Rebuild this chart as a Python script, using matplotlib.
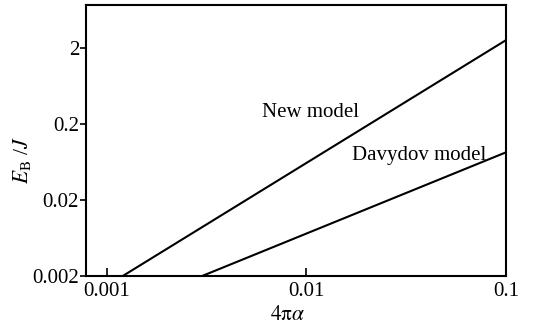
import matplotlib
matplotlib.use("Agg")
from matplotlib import pyplot as plt
from matplotlib.ticker import FixedLocator, FixedFormatter, NullLocator

plt.rcParams['font.family'] = ['Liberation Serif', 'DejaVu Serif']
plt.rcParams['mathtext.fontset'] = 'stix'

# 数据
new_x = [0.0012, 0.1]
new_y = [0.002, 2.55]
dav_x = [0.0030, 0.1]
dav_y = [0.002, 0.085]

x_ticks = [0.001, 0.01, 0.1]
x_labels = ["0.001", "0.01", "0.1"]
y_ticks = [0.002, 0.02, 0.2, 2]
y_labels = ["0.002", "0.02", "0.2", "2"]

fig = plt.figure(figsize=(5.49, 3.26), dpi=100)
ax = fig.add_axes([0.1566, 0.1534, 0.9217 - 0.1566, 0.9847 - 0.1534])

ax.plot(new_x, new_y, color="black", lw=1.5)
ax.plot(dav_x, dav_y, color="black", lw=1.5)

ax.set_xscale("log")
ax.set_yscale("log")
ax.set_xlim(0.000785, 0.1)
ax.set_ylim(0.002, 7.4)

ax.xaxis.set_major_locator(FixedLocator(x_ticks))
ax.xaxis.set_major_formatter(FixedFormatter(x_labels))
ax.xaxis.set_minor_locator(NullLocator())
ax.yaxis.set_major_locator(FixedLocator(y_ticks))
ax.yaxis.set_major_formatter(FixedFormatter(y_labels))
ax.yaxis.set_minor_locator(NullLocator())

ax.tick_params(axis="x", direction="in", length=6, width=1.2, labelsize=15, pad=4)
ax.tick_params(axis="y", direction="out", length=4, width=1.2, labelsize=15, pad=1)

for s in ax.spines.values():
    s.set_linewidth(1.5)

ax.text(0.0060, 0.28, "New model", fontsize=15, ha="left", va="center")
ax.text(0.0169, 0.077, "Davydov model", fontsize=15, ha="left", va="center")

ax.set_xlabel(r"$4\mathrm{\pi}\alpha$", fontsize=15.5)
ax.set_ylabel(r"$E_{\mathrm{B}}$ /$J$", fontsize=15.5)
ax.xaxis.set_label_coords(0.48, -0.11)
ax.yaxis.set_label_coords(-0.125, 0.43)

fig.savefig("out.png", dpi=100)
